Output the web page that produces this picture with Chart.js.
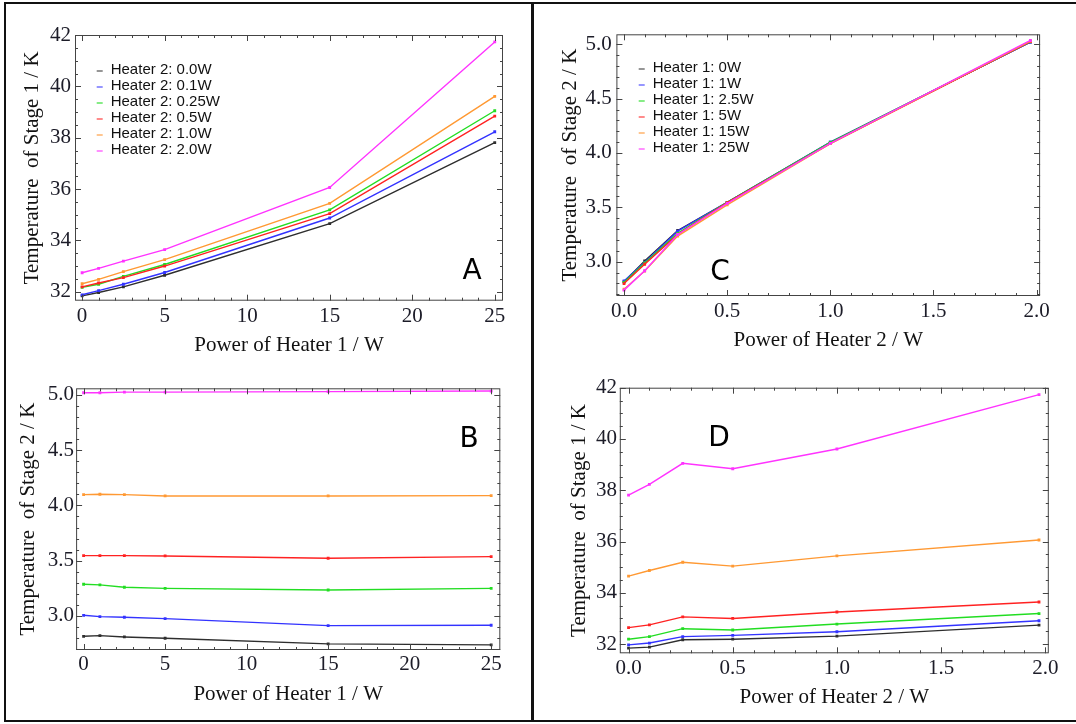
<!DOCTYPE html>
<html>
<head>
<meta charset="utf-8">
<script src="https://cdn.jsdelivr.net/npm/chart.js@4.4.0/dist/chart.umd.min.js"></script>
<style>
  body { margin: 0; background: #fff; width: 1076px; height: 724px; position: relative; overflow: hidden; }
  canvas { position: absolute; }
  .rule { position: absolute; background: #111; }
</style>
</head>
<body>
<canvas id="chartA" width="531" height="372" style="left:0;top:0"></canvas>
<canvas id="chartB" width="531" height="364" style="left:0;top:360px"></canvas>
<canvas id="chartC" width="543" height="372" style="left:533px;top:0"></canvas>
<canvas id="chartD" width="543" height="364" style="left:533px;top:360px"></canvas>

<div class="rule" style="left:4px;top:2px;width:1072px;height:2px"></div>
<div class="rule" style="left:4px;top:2px;width:2px;height:720px"></div>
<div class="rule" style="left:4px;top:720px;width:1072px;height:2px"></div>
<div class="rule" style="left:531px;top:2px;width:3px;height:720px"></div>

<script>
// measured powers
const heater1Power = [0, 1, 2.5, 5, 15, 25];
const heater2Power = [0, 0.1, 0.26, 0.5, 1.0, 1.97];

const heater2Labels = ["Heater 2: 0.0W", "Heater 2: 0.1W", "Heater 2: 0.25W", "Heater 2: 0.5W", "Heater 2: 1.0W", "Heater 2: 2.0W"];
const heater1Labels = ["Heater 1: 0W", "Heater 1: 1W", "Heater 1: 2.5W", "Heater 1: 5W", "Heater 1: 15W", "Heater 1: 25W"];

// Stage 1 temperature (K), one row per heater 2 setting, columns = heater 1 power
const stage1H2_00 = [31.84, 31.97, 32.19, 32.64, 34.65, 37.81];
const stage1H2_01 = [31.88, 32.04, 32.29, 32.75, 34.87, 38.23];
const stage1H2_025 = [32.17, 32.29, 32.60, 33.06, 35.19, 39.05];
const stage1H2_05 = [32.19, 32.34, 32.55, 33.00, 35.04, 38.84];
const stage1H2_10 = [32.31, 32.48, 32.78, 33.25, 35.44, 39.61];
const stage1H2_20 = [32.74, 32.91, 33.19, 33.64, 36.06, 41.73];

// Stage 2 temperature (K), same layout
const stage2H2_00 = [2.816, 2.822, 2.810, 2.798, 2.747, 2.738];
const stage2H2_01 = [3.006, 2.994, 2.988, 2.976, 2.913, 2.916];
const stage2H2_025 = [3.287, 3.281, 3.260, 3.250, 3.235, 3.250];
const stage2H2_05 = [3.546, 3.546, 3.546, 3.543, 3.522, 3.537];
const stage2H2_10 = [4.098, 4.101, 4.098, 4.086, 4.086, 4.089];
const stage2H2_20 = [5.020, 5.020, 5.025, 5.025, 5.030, 5.035];

const stage1 = [stage1H2_00, stage1H2_01, stage1H2_025, stage1H2_05, stage1H2_10, stage1H2_20];
const stage2 = [stage2H2_00, stage2H2_01, stage2H2_025, stage2H2_05, stage2H2_10, stage2H2_20];

const lineColors = ["#2e2e2e", "#3333ff", "#22dd22", "#ff2222", "#ff9933", "#ff33ff"];
const legendColors = ["rgba(60,60,60,0.6)", "rgba(60,60,255,0.6)", "rgba(30,220,30,0.6)", "rgba(255,40,40,0.6)", "rgba(255,150,50,0.6)", "rgba(255,50,255,0.6)"];

function transpose(m) {
  return m[0].map((_, j) => m.map(row => row[j]));
}

const serif = { family: "Liberation Serif", size: 21 };

// frame with inward major + minor ticks on all four sides
const frameTicks = {
  id: "frameTicks",
  afterDraw(chart) {
    const ctx = chart.ctx, a = chart.chartArea;
    ctx.save();
    ctx.strokeStyle = "#444";
    ctx.lineWidth = 1;
    ctx.strokeRect(a.left + 0.5, a.top + 0.5, a.right - a.left - 1, a.bottom - a.top - 1);
    ctx.beginPath();
    ["x", "y"].forEach(id => {
      const s = chart.scales[id];
      const minor = s.options.minorStep;
      const marks = [];
      s.ticks.forEach(t => marks.push([t.value, 6]));
      for (let v = Math.ceil(s.min / minor) * minor; v <= s.max; v += minor) {
        if (!s.ticks.some(t => Math.abs(t.value - v) < minor / 10)) marks.push([v, 3]);
      }
      marks.forEach(([v, len]) => {
        const p = Math.round(s.getPixelForValue(v)) + 0.5;
        if (id === "x") {
          ctx.moveTo(p, a.bottom); ctx.lineTo(p, a.bottom - len);
          ctx.moveTo(p, a.top); ctx.lineTo(p, a.top + len);
        } else {
          ctx.moveTo(a.left, p); ctx.lineTo(a.left + len, p);
          ctx.moveTo(a.right, p); ctx.lineTo(a.right - len, p);
        }
      });
    });
    ctx.stroke();
    ctx.restore();
  }
};

// legend inside the plot, short dash + label
const innerLegend = {
  id: "innerLegend",
  afterDraw(chart, args, opts) {
    if (!opts.show) return;
    const ctx = chart.ctx;
    ctx.save();
    ctx.font = "15px 'Liberation Sans'";
    ctx.textBaseline = "alphabetic";
    chart.data.datasets.forEach((ds, i) => {
      const y = opts.y + i * 16;
      ctx.strokeStyle = legendColors[i];
      ctx.lineWidth = 1.8;
      ctx.beginPath();
      ctx.moveTo(opts.x - 14, y - 3);
      ctx.lineTo(opts.x - 8, y - 3);
      ctx.stroke();
      ctx.fillStyle = "#111";
      ctx.fillText(ds.label, opts.x, y);
    });
    ctx.restore();
  }
};

const panelTag = {
  id: "panelTag",
  afterDraw(chart, args, opts) {
    const ctx = chart.ctx;
    ctx.save();
    ctx.font = "28px 'DejaVu Sans'";
    ctx.fillStyle = "#000";
    ctx.textAlign = "center";
    ctx.textBaseline = "middle";
    ctx.fillText(opts.text, opts.x, opts.y);
    ctx.restore();
  }
};

function makeChart(id, p) {
  return new Chart(document.getElementById(id), {
    type: "line",
    data: {
      datasets: p.series.map((s, i) => ({
        label: p.labels[i],
        data: p.xs.map((x, j) => ({ x: x, y: s[j] })),
        borderColor: lineColors[i],
        backgroundColor: lineColors[i],
        borderWidth: 1.4,
        pointStyle: "rect",
        pointRadius: 2,
        pointBorderWidth: 0,
        order: lineColors.length - i
      }))
    },
    options: {
      responsive: false,
      animation: false,
      layout: { padding: { left: 0, top: p.top, right: p.right, bottom: 0 } },
      plugins: {
        legend: { display: false },
        tooltip: { enabled: false },
        innerLegend: p.legend || { show: false },
        panelTag: p.tag
      },
      scales: {
        x: {
          type: "linear",
          min: p.xRange[0], max: p.xRange[1],
          minorStep: p.xMinor,
          afterFit: s => { s.height = p.xh; },
          grid: { display: false, drawTicks: false },
          border: { display: false },
          ticks: { stepSize: p.xStep, includeBounds: false, padding: p.xPad, font: serif, color: "#1c1c28",
                   callback: v => v.toFixed(p.xDec) },
          title: { display: true, text: p.xTitle, font: { family: "Liberation Serif", size: 21, lineHeight: 1 }, color: "#111",
                   padding: { top: 0, bottom: p.xTitlePad } }
        },
        y: {
          type: "linear",
          min: p.yRange[0], max: p.yRange[1],
          minorStep: p.yMinor,
          afterFit: s => { s.width = p.left; },
          grid: { display: false, drawTicks: false },
          border: { display: false },
          ticks: { stepSize: p.yStep, includeBounds: false, padding: p.yPad, font: serif, color: "#1c1c28",
                   callback: v => v.toFixed(p.yDec) },
          title: { display: true, text: p.yTitle, font: { family: "Liberation Serif", size: 21, lineHeight: 1 }, color: "#111",
                   padding: { top: p.yTitlePad, bottom: 0 } }
        }
      }
    },
    plugins: [frameTicks, innerLegend, panelTag]
  });
}

Chart.defaults.font.family = "Liberation Serif";

// A: stage 1 vs heater 1
makeChart("chartA", {
  series: stage1, labels: heater2Labels, xs: heater1Power,
  left: 75, top: 35, right: 28, xh: 71.3,
  xRange: [-0.43, 25.5], xStep: 5, xMinor: 1, xDec: 0, xPad: 3.4,
  yRange: [31.65, 42], yStep: 2, yMinor: 0.5, yDec: 0, yPad: 4,
  xTitle: "Power of Heater 1 / W", xTitlePad: 15.9,
  yTitle: "Temperature  of Stage 1 / K", yTitlePad: 22,
  legend: { show: true, x: 110.7, y: 74 },
  tag: { text: "A", x: 472, y: 271.7 }
});

// B: stage 2 vs heater 1
makeChart("chartB", {
  series: stage2, labels: heater2Labels, xs: heater1Power,
  left: 76.1, top: 28.3, right: 30.7, xh: 74,
  xRange: [-0.46, 25.56], xStep: 5, xMinor: 1, xDec: 0, xPad: 2.1,
  yRange: [2.692, 5.06], yStep: 0.5, yMinor: 0.1, yDec: 1, yPad: 2,
  xTitle: "Power of Heater 1 / W", xTitlePad: 18.9,
  yTitle: "Temperature  of Stage 2 / K", yTitlePad: 17.5,
  tag: { text: "B", x: 469, y: 79.7 }
});

// C: stage 2 vs heater 2
makeChart("chartC", {
  series: transpose(stage2), labels: heater1Labels, xs: heater2Power,
  left: 83.4, top: 34.3, right: 35.9, xh: 76,
  xRange: [-0.037, 2.017], xStep: 0.5, xMinor: 0.1, xDec: 1, xPad: 2.6,
  yRange: [2.684, 5.092], yStep: 0.5, yMinor: 0.1, yDec: 1, yPad: 4.6,
  xTitle: "Power of Heater 2 / W", xTitlePad: 21.3,
  yTitle: "Temperature  of Stage 2 / K", yTitlePad: 27,
  legend: { show: true, x: 119.7, y: 72 },
  tag: { text: "C", x: 187, y: 272.5 }
});

// D: stage 1 vs heater 2
makeChart("chartD", {
  series: transpose(stage1), labels: heater1Labels, xs: heater2Power,
  left: 86.8, top: 27.7, right: 27.2, xh: 70.7,
  xRange: [-0.042, 2.017], xStep: 0.5, xMinor: 0.1, xDec: 1, xPad: 2.4,
  yRange: [31.64, 42], yStep: 2, yMinor: 0.5, yDec: 0, yPad: 2.7,
  xTitle: "Power of Heater 2 / W", xTitlePad: 15.6,
  yTitle: "Temperature  of Stage 1 / K", yTitlePad: 35.5,
  tag: { text: "D", x: 186, y: 78.3 }
});
</script>
</body>
</html>
